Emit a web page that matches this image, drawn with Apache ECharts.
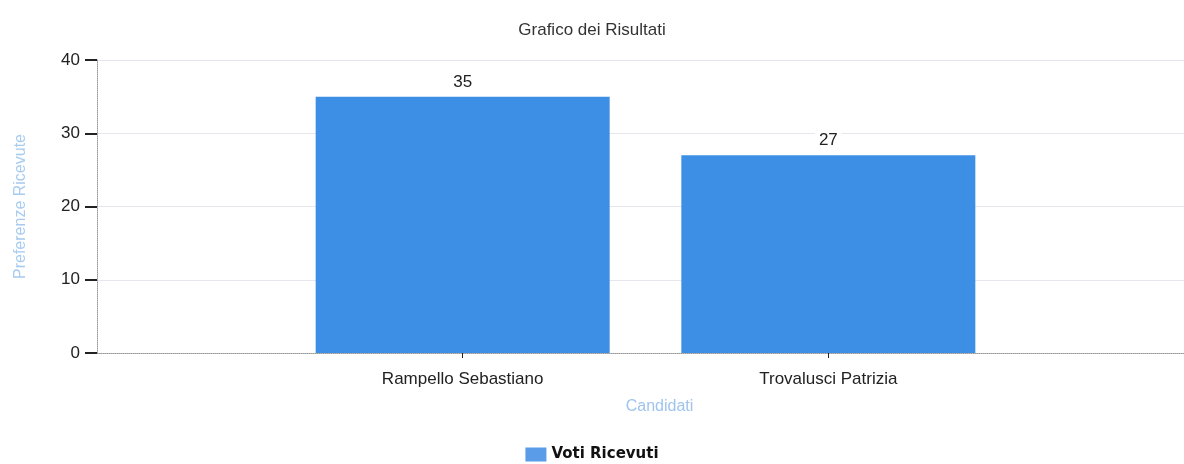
<!DOCTYPE html>
<html lang="it">
<head>
    <meta charset="UTF-8">
    <title>Grafico dei Risultati</title>
    <script src="https://cdn.jsdelivr.net/npm/echarts@6/dist/echarts.min.js"></script>
    <style>
        html, body { margin: 0; padding: 0; background: #fff; }
        #chart { width: 1184px; height: 464px; }
    </style>
</head>
<body>
<div id="chart"></div>
<script>
    // padded with empty slots so the two bars sit at 1/3 and 2/3 of the axis
    const candidati = ['', 'Rampello Sebastiano', 'Trovalusci Patrizia', ''];
    const voti = [null, 35, 27, null];
    const yTicks = { min: 0, max: 40, interval: 10 };

    const font = '"Liberation Sans", Arial, sans-serif';

    const chart = echarts.init(document.getElementById('chart'));
    chart.setOption({
        animation: false,
        title: {
            text: 'Grafico dei Risultati',
            left: 'center',
            top: 17,
            textStyle: { fontFamily: font, fontSize: 17, fontWeight: 'normal', color: '#333' }
        },
        legend: {
            bottom: 2,
            left: 'center',
            padding: 0,
            icon: 'rect',
            itemWidth: 21,
            itemHeight: 14,
            itemGap: 6,
            textStyle: { fontFamily: '"DejaVu Sans", sans-serif', fontSize: 15, fontWeight: 'bold', color: '#111' },
            data: [{ name: 'Voti Ricevuti', itemStyle: { color: '#5b9ce9' } }]
        },
        grid: { left: 97, right: -10, top: 60, bottom: 111, outerBoundsMode: 'none' },
        xAxis: {
            type: 'category',
            data: candidati,
            boundaryGap: false,
            name: 'Candidati',
            nameLocation: 'middle',
            nameGap: 46,
            nameTextStyle: { fontFamily: font, fontSize: 16, color: '#9fc4ee', padding: [0, 0, 0, 28] },
            axisLine: { lineStyle: { color: '#9a9a9a', type: 'dotted', width: 1 } },
            axisTick: {
                interval: (i) => candidati[i] !== '',
                length: 5,
                lineStyle: { color: '#222' }
            },
            axisLabel: {
                interval: 0,
                margin: 18,
                fontFamily: font,
                fontSize: 17,
                color: '#222'
            },
            splitLine: { show: false }
        },
        yAxis: {
            type: 'value',
            min: yTicks.min,
            max: yTicks.max,
            interval: yTicks.interval,
            name: 'Preferenze Ricevute',
            nameLocation: 'middle',
            nameGap: 68,
            nameTextStyle: { fontFamily: font, fontSize: 16, color: '#a8cbf0' },
            axisLine: { show: true, lineStyle: { color: '#9a9a9a', type: 'dotted', width: 1 } },
            axisTick: { show: true, length: 12, lineStyle: { color: '#222', width: 2 } },
            axisLabel: { margin: 17, fontFamily: font, fontSize: 17, color: '#222' },
            splitLine: { show: true, lineStyle: { color: '#e6e6ef', width: 1 } }
        },
        series: [{
            name: 'Voti Ricevuti',
            type: 'bar',
            data: voti,
            barWidth: 294,
            itemStyle: { color: '#3d8fe6' },
            label: {
                show: true,
                position: 'top',
                distance: 4,
                fontFamily: font,
                fontSize: 17,
                color: '#222',
                backgroundColor: '#fff',
                padding: [2, 4]
            }
        }]
    });
</script>
</body>
</html>
